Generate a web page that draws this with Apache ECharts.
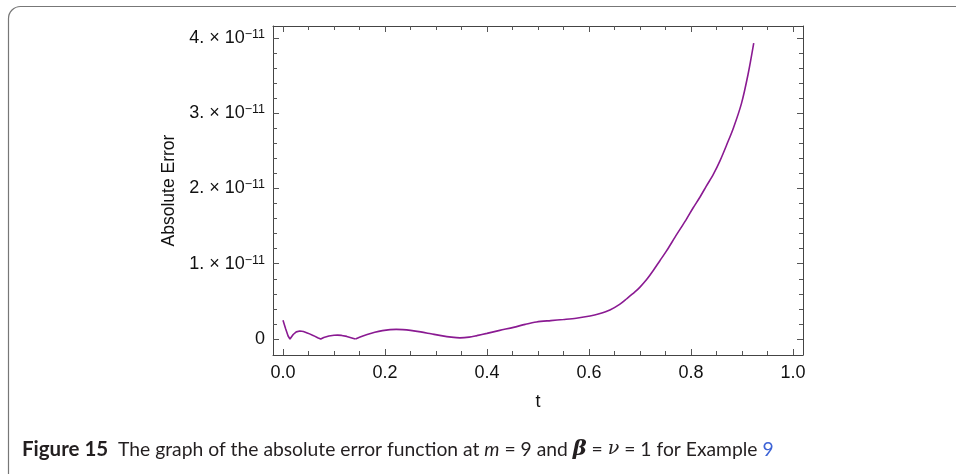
<!DOCTYPE html>
<html><head><meta charset="utf-8">
<script src="https://cdn.jsdelivr.net/npm/echarts@6/dist/echarts.min.js"></script>
<style>html,body{margin:0;padding:0;background:#fff}#c{width:956px;height:474px}</style>
</head><body><div id="c"></div>
<script>
// t values and absolute error (in units of 1e-11)
var tValues = [0.000,0.005,0.010,0.0137,0.020,0.026,0.033,0.040,0.050,0.060,0.068,0.074,0.080,0.090,0.100,0.107,0.115,0.125,0.135,0.142,0.150,0.165,0.180,0.195,0.210,0.222,0.235,0.250,0.270,0.290,0.310,0.330,0.347,0.365,0.380,0.400,0.425,0.452,0.475,0.497,0.525,0.550,0.575,0.602,0.620,0.641,0.660,0.674,0.690,0.700,0.713,0.726,0.739,0.752,0.772,0.790,0.804,0.818,0.830,0.844,0.857,0.870,0.883,0.899,0.912,0.923];
var errE11 = [0.25,0.14,0.04,0.0,0.06,0.095,0.106,0.10,0.075,0.045,0.018,0.0,0.02,0.04,0.05,0.052,0.048,0.035,0.015,0.0,0.025,0.06,0.09,0.112,0.125,0.128,0.125,0.115,0.095,0.07,0.045,0.025,0.016,0.025,0.045,0.075,0.115,0.155,0.195,0.226,0.245,0.26,0.277,0.305,0.335,0.385,0.46,0.535,0.625,0.69,0.79,0.91,1.04,1.17,1.39,1.58,1.74,1.89,2.03,2.19,2.37,2.58,2.80,3.13,3.52,3.93];
var xMajor = [0,0.2,0.4,0.6,0.8,1.0];
var xMinor = [0.05,0.1,0.15,0.25,0.3,0.35,0.45,0.5,0.55,0.65,0.7,0.75,0.85,0.9,0.95];
var yMajor = [0,1,2,3,4];
var yMinor = [0.2,0.4,0.6,0.8,1.2,1.4,1.6,1.8,2.2,2.4,2.6,2.8,3.2,3.4,3.6,3.8];
var xLabels = ['0.0','0.2','0.4','0.6','0.8','1.0'];

var X_MIN=-0.0196, X_MAX=1.0196, Y_MIN=-0.212, Y_MAX=4.157;
var lineCol='#444', tickCol='#555';
var FONT='Liberation Sans';
var data = tValues.map(function(t,i){return [t, errE11[i]];});
var cut = tValues.indexOf(0.142);
var dataCusp = data.slice(0, cut+1);
var dataSmooth = data.slice(cut);

function xAx(pos, vals, len, labels, line){
  return {type:'value', position:pos, min:X_MIN, max:X_MAX, gridIndex:0,
    axisLine:{show:line, onZero:false, lineStyle:{color:lineCol,width:1}},
    axisTick:{show:true, inside:true, length:len, customValues:vals, lineStyle:{color:tickCol,width:1}},
    axisLabel:labels?{show:true, customValues:xMajor, margin:9, color:'#111', fontFamily:FONT, fontSize:18,
      formatter:function(v){var i=xMajor.indexOf(v);return i>=0?xLabels[i]:'';}}:{show:false},
    splitLine:{show:false}};
}
function yAx(pos, vals, len, labels, line){
  return {type:'value', position:pos, min:Y_MIN, max:Y_MAX, gridIndex:0,
    axisLine:{show:line, onZero:false, lineStyle:{color:lineCol,width:1}},
    axisTick:{show:true, inside:true, length:len, customValues:vals, lineStyle:{color:tickCol,width:1}},
    axisLabel:labels?{show:true, customValues:yMajor, margin:8, color:'#111', fontFamily:FONT, fontSize:18,
      formatter:function(v){ if(Math.abs(v)<1e-9) return '{a|0}'; return '{a|'+Math.round(v)+'. × 10}{s|−11}';},
      rich:{a:{fontFamily:FONT,fontSize:18,color:'#111',lineHeight:20},
            s:{fontFamily:FONT,fontSize:12.5,color:'#111',verticalAlign:'top',lineHeight:12,padding:[0,0,9,0]}}}:{show:false},
    splitLine:{show:false}};
}

var chart = echarts.init(document.getElementById('c'), null, {renderer:'canvas'});
var xs=[xAx('bottom',xMajor,6,true,true), xAx('bottom',xMinor,4,false,false), xAx('top',xMajor,6,false,true), xAx('top',xMinor,4,false,false)];
xs[0].name='t'; xs[0].nameLocation='middle'; xs[0].nameGap=38; xs[0].nameTextStyle={fontFamily:FONT,fontSize:18,color:'#111'};
var ys=[yAx('left',yMajor,6,true,true), yAx('left',yMinor,4,false,false), yAx('right',yMajor,6,false,true), yAx('right',yMinor,4,false,false)];
ys[0].name='Absolute Error'; ys[0].nameLocation='middle'; ys[0].nameGap=89; ys[0].nameTextStyle={fontFamily:FONT,fontSize:17.5,color:'#111'};

var lineStyle = {color:'#8a1a92', width:1.6};
chart.setOption({
  animation:false,
  grid:{left:273, top:26, width:530, height:329, containLabel:false},
  xAxis:xs, yAxis:ys,
  series:[
    {type:'line', xAxisIndex:0, yAxisIndex:0, data:dataCusp, showSymbol:false, smooth:false, lineStyle:lineStyle},
    {type:'line', xAxisIndex:0, yAxisIndex:0, data:dataSmooth, showSymbol:false, smooth:0.3, lineStyle:lineStyle}
  ],
  graphic:[
    {type:'rect', shape:{x:8.5,y:6.5,width:1000,height:600,r:12}, style:{fill:'none',stroke:'#777',lineWidth:1.2}, silent:true},
    {type:'text', left:22, top:439, style:{
      text:'{b|Figure 15}{n|  The graph of the absolute error function at }{i|m}{n| = 9 and }{g|β}{n| = }{g2|ν}{n| = 1 for Example }{l|9}',
      rich:{
        b:{fontFamily:'Lato',fontWeight:'bold',fontSize:20.5,fill:'#231f20'},
        n:{fontFamily:'Lato',fontSize:19.3,fill:'#231f20'},
        i:{fontFamily:'Lato',fontStyle:'italic',fontSize:19.3,fill:'#231f20'},
        g:{fontFamily:'DejaVu Serif',fontStyle:'italic',fontWeight:'bold',fontSize:21,fill:'#231f20'},
        g2:{fontFamily:'DejaVu Serif',fontStyle:'italic',fontSize:19,fill:'#231f20'},
        l:{fontFamily:'Lato',fontSize:19.3,fill:'#3d63d6'}
      }}}
  ]
});
</script></body></html>
